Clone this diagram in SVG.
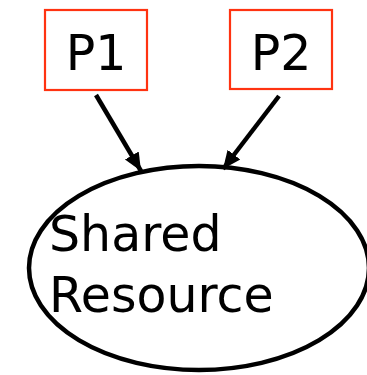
<svg xmlns="http://www.w3.org/2000/svg" width="367" height="375" viewBox="0 0 367 375">
<style>
.box{fill:#fff;stroke:#ff3311;stroke-width:2.2}
.lbl{font-family:"DejaVu Sans",Verdana,sans-serif;font-size:49px;fill:#000}
.edge{stroke:#000;stroke-width:4.5;fill:none}
</style>
<defs>
<marker id="ah" markerUnits="userSpaceOnUse" markerWidth="20" markerHeight="20" viewBox="0 0 20 20" refX="18" refY="10" orient="auto">
<path d="M0,2 L18,10 L0,18 Z" fill="#000"/>
</marker>
</defs>
<rect width="367" height="375" fill="#fff"/>
<g id="connectors">
<line class="edge" x1="96" y1="95" x2="141" y2="171" marker-end="url(#ah)"/>
<line class="edge" x1="279" y1="96" x2="223" y2="169" marker-end="url(#ah)"/>
</g>
<g id="P1">
<rect class="box" x="45" y="10" width="102" height="80"/>
<text class="lbl" x="96" y="70" text-anchor="middle">P1</text>
</g>
<g id="P2">
<rect class="box" x="230" y="10" width="102" height="79"/>
<text class="lbl" x="281" y="70" text-anchor="middle">P2</text>
</g>
<g id="shared">
<ellipse cx="199" cy="268" rx="170" ry="102" fill="none" stroke="#000" stroke-width="4.5"/>
<text class="lbl" x="49" y="251">Shared</text>
<text class="lbl" x="49" y="312">Resource</text>
</g>
</svg>
